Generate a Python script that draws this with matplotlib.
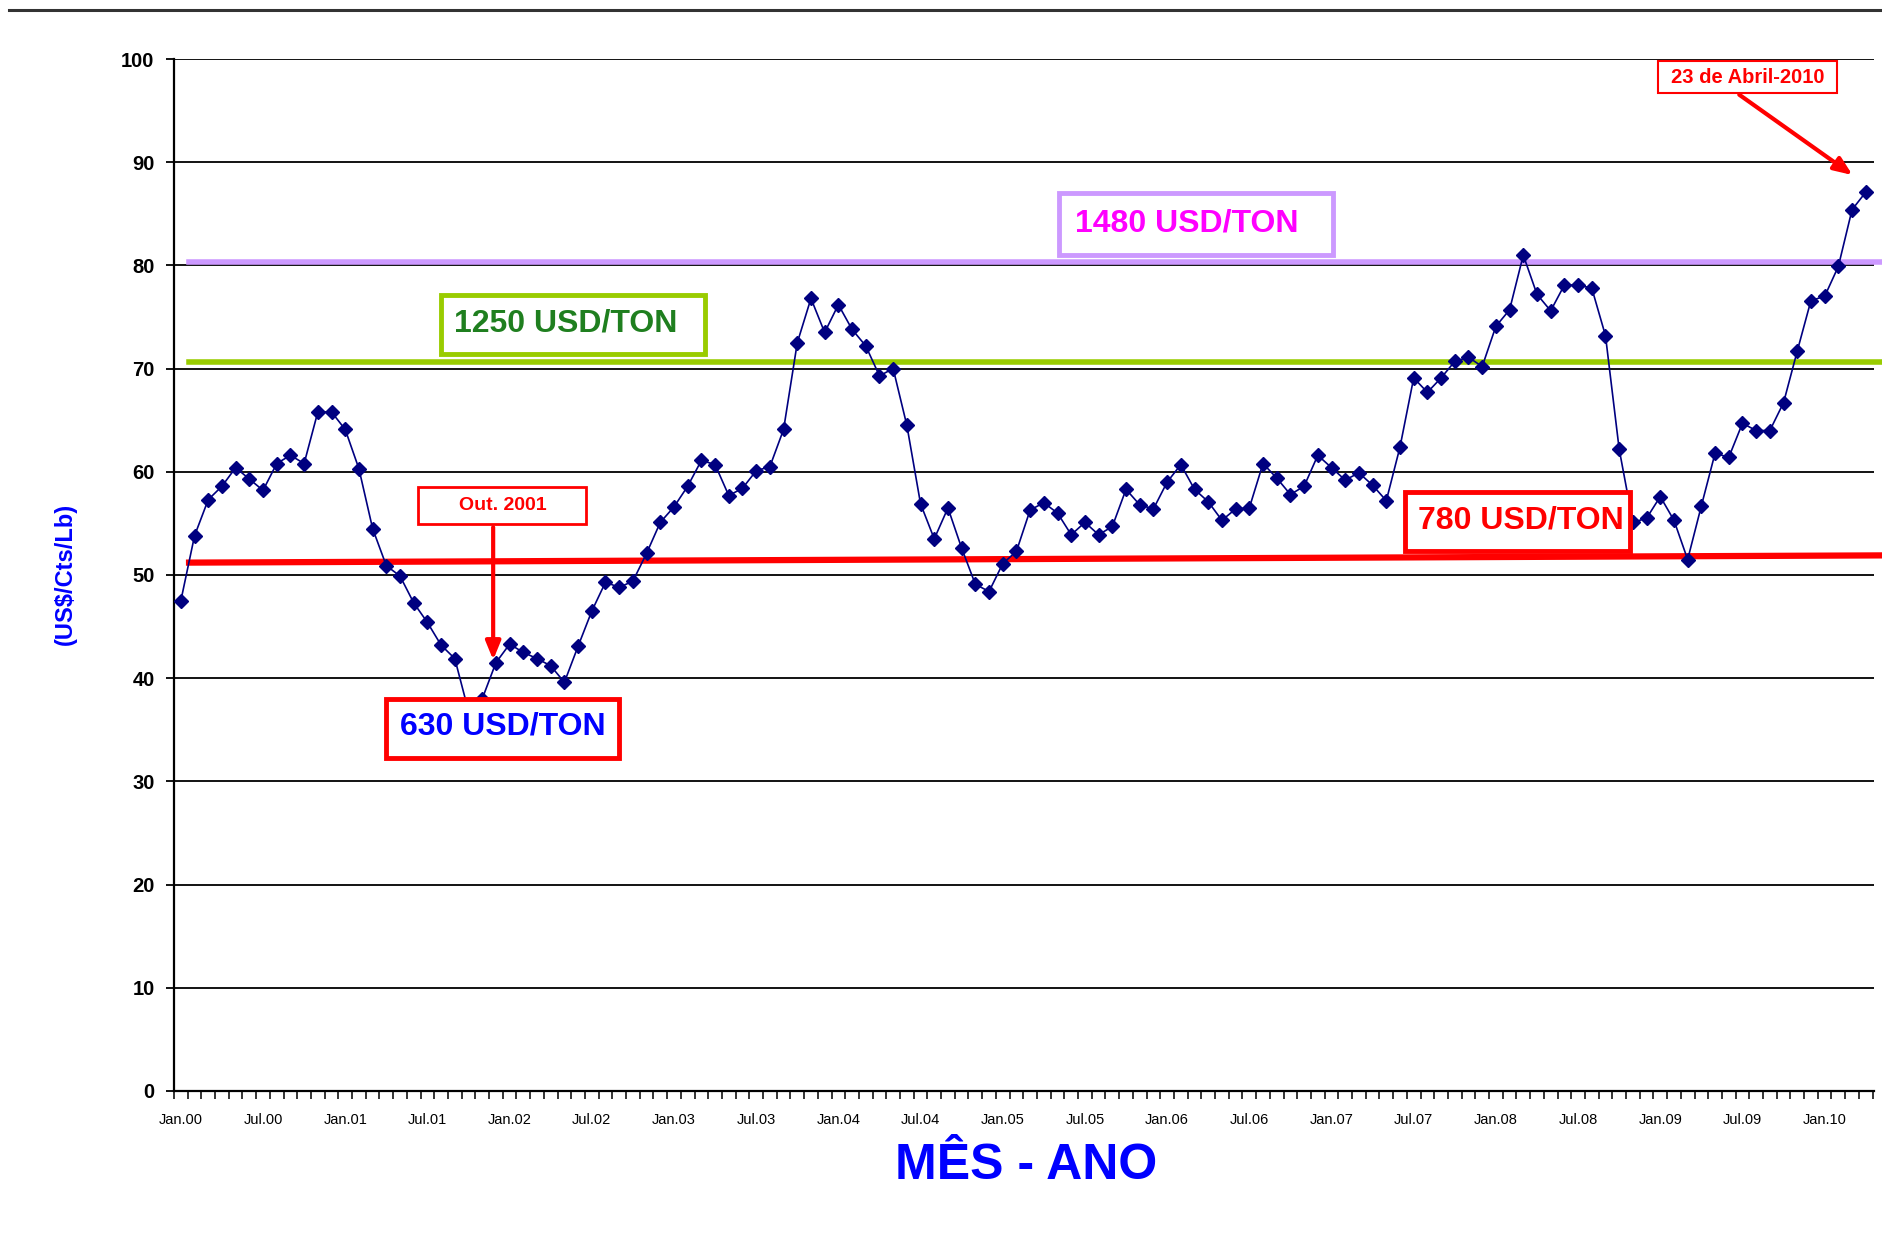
import matplotlib

matplotlib.use("Agg")
import matplotlib.pyplot as plt
import numpy as np
from matplotlib.lines import Line2D
from matplotlib.patches import Rectangle

# Monthly price (US cents per lb), Jan 2000 .. Apr 2010
prices = [
    47.5, 53.8, 57.3, 58.6, 60.4, 59.3, 58.2, 60.8, 61.6, 60.8, 65.8, 65.8,  # 2000
    64.1, 60.3, 54.5, 50.9, 49.9, 47.3, 45.4, 43.2, 41.9, 36.8, 38.0, 41.5,  # 2001
    43.3, 42.5, 41.9, 41.2, 39.6, 43.1, 46.5, 49.3, 48.8, 49.4, 52.1, 55.1,  # 2002
    56.6, 58.6, 61.1, 60.7, 57.7, 58.4, 60.1, 60.5, 64.1, 72.5, 76.8, 73.5,  # 2003
    76.2, 73.8, 72.2, 69.3, 70.0, 64.5, 56.9, 53.5, 56.5, 52.6, 49.1, 48.4,  # 2004
    51.1, 52.3, 56.3, 57.0, 56.0, 53.9, 55.1, 53.9, 54.7, 58.3, 56.8, 56.4,  # 2005
    59.0, 60.7, 58.3, 57.1, 55.3, 56.4, 56.5, 60.8, 59.4, 57.8, 58.6, 61.6,  # 2006
    60.4, 59.2, 59.9, 58.7, 57.2, 62.4, 69.1, 67.7, 69.1, 70.7, 71.1, 70.2,  # 2007
    74.1, 75.7, 81.0, 77.2, 75.6, 78.1, 78.1, 77.8, 73.2, 62.2, 55.1, 55.5,  # 2008
    57.6, 55.3, 51.5, 56.7, 61.8, 61.4, 64.7, 64.0, 64.0, 66.7, 71.7, 76.6,  # 2009
    77.0, 79.9, 85.4, 87.1,  # 2010
]

tick_labels = [
    "Jan.00", "Jul.00", "Jan.01", "Jul.01", "Jan.02", "Jul.02", "Jan.03",
    "Jul.03", "Jan.04", "Jul.04", "Jan.05", "Jul.05", "Jan.06", "Jul.06",
    "Jan.07", "Jul.07", "Jan.08", "Jul.08", "Jan.09", "Jul.09", "Jan.10",
]

# reference levels (cents/lb) drawn as horizontal bands
level_high = 80.3        # 1480 USD/TON
level_mid = 70.6         # 1250 USD/TON
level_low = (51.2, 51.9)  # 780 USD/TON, slightly rising

NARROW = ["Liberation Sans Narrow", "Liberation Sans", "DejaVu Sans"]
ARIAL = ["Liberation Sans", "DejaVu Sans"]

fig = plt.figure(figsize=(18.83, 12.56), dpi=100, facecolor="white")
ax = fig.add_axes([0.0924, 0.1314, 0.9028, 0.8216])

months = np.arange(len(prices))
x_end = len(prices) - 0.4

ax.set_xlim(-0.5, x_end)
ax.set_ylim(0, 100)

# horizontal grid
ax.set_yticks(np.arange(0, 101, 10))
ax.yaxis.grid(True, color="black", lw=1.3)
ax.set_axisbelow(True)
for s in ("top", "right"):
    ax.spines[s].set_visible(False)
ax.spines["left"].set_linewidth(1.6)
ax.spines["bottom"].set_linewidth(1.6)
ax.tick_params(axis="y", length=6, width=1.3, labelsize=14.5, pad=8)
for lab in ax.get_yticklabels():
    lab.set_family(NARROW)
    lab.set_fontweight("bold")

ax.set_xticks(np.arange(0, len(prices), 6))
ax.set_xticklabels(tick_labels, family=NARROW, fontsize=10.5)
ax.set_xticks(np.arange(-0.5, len(prices), 1), minor=True)
ax.tick_params(axis="x", which="major", length=0, pad=16)
ax.tick_params(axis="x", which="minor", length=6, width=1.1)

# reference levels
lx = [0.6, x_end + 0.6]
ax.plot(lx, [level_high, level_high], color="#CC99FF", lw=4, clip_on=False, zorder=2)
ax.plot(lx, [level_mid, level_mid], color="#99CC00", lw=4, clip_on=False, zorder=2)
ax.plot(lx, list(level_low), color="#FF0000", lw=4.5, clip_on=False, zorder=2)

# price series
ax.plot(months, prices, color="#000080", lw=1.2, marker="D", markersize=7.5,
        markerfacecolor="#000080", markeredgecolor="#000080", zorder=3)


def label_box(x0, x1, y0, y1, text, tx, ty, edge, color, size, lw=3.5):
    ax.add_patch(Rectangle((x0, y0), x1 - x0, y1 - y0, facecolor="white",
                           edgecolor=edge, lw=lw, zorder=5, clip_on=False))
    ax.text(tx, ty, text, ha="center", va="center", color=color, fontsize=size,
            fontweight="bold", family=ARIAL, zorder=6)


label_box(64.1, 84.1, 81.0, 87.0, "1480 USD/TON", 73.4, 84.1, "#CC99FF", "#FF00FF", 23)
label_box(19.0, 38.3, 71.4, 77.1, "1250 USD/TON", 28.1, 74.4, "#99CC00", "#1F7F1F", 23)
label_box(15.0, 32.0, 32.3, 38.0, "630 USD/TON", 23.5, 35.3, "#FF0000", "#0000FF", 23)
label_box(89.4, 105.8, 52.3, 58.0, "780 USD/TON", 97.8, 55.3, "#FF0000", "#FF0000", 23)
label_box(17.3, 29.6, 54.9, 58.5, "Out. 2001", 23.5, 56.7, "#FF0000", "#FF0000", 14, lw=2)
label_box(107.8, 120.9, 96.7, 99.8, "23 de Abril-2010", 114.35, 98.25, "#FF0000", "#FF0000", 14.5, lw=1.5)

arrow = dict(arrowstyle="-|>,head_length=1.1,head_width=0.45", color="#FF0000", lw=3)
ax.annotate("", xy=(22.8, 41.5), xytext=(22.8, 54.9), arrowprops=arrow, zorder=7)
ax.annotate("", xy=(122.2, 88.6), xytext=(113.6, 96.7), arrowprops=arrow, zorder=7)

fig.text(0.0345, 0.543, "(US$/Cts/Lb)", rotation=90, ha="center", va="center",
         color="#0000FF", fontsize=17, fontweight="bold", family=ARIAL)
fig.text(0.545, 0.0716, "MÊS - ANO", ha="center", va="center", color="#0000FF",
         fontsize=36, fontweight="bold", family=ARIAL)

# rule across the top of the page
fig.add_artist(Line2D([0.005, 1.0], [0.992, 0.992], color="#333333", lw=2.2))

fig.savefig("out.png", dpi=100, facecolor="white")
